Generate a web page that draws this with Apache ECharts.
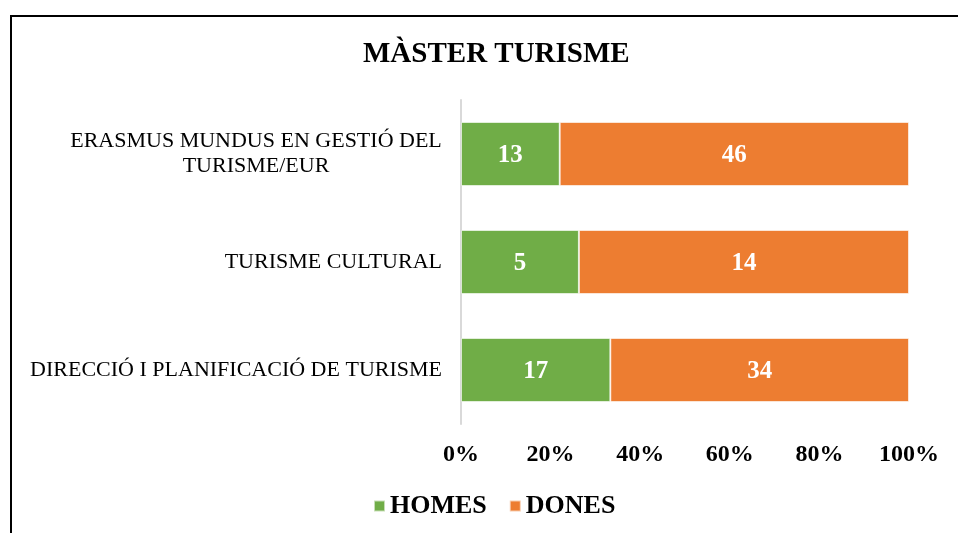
<!DOCTYPE html>
<html>
<head>
<meta charset="utf-8">
<title>MÀSTER TURISME</title>
<script src="https://cdn.jsdelivr.net/npm/echarts@6/dist/echarts.min.js"></script>
<style>
  html, body { margin: 0; padding: 0; background: #ffffff; }
  #chart { width: 958px; height: 533px; }
</style>
</head>
<body>
<div id="chart"></div>
<script>
// Programmes, listed top to bottom
const categories = [
  'ERASMUS MUNDUS EN GESTIÓ DEL\nTURISME/EUR',
  'TURISME CULTURAL',
  'DIRECCIÓ I PLANIFICACIÓ DE TURISME'
];
// Student counts by sex
const homes = [13, 5, 17];
const dones = [46, 14, 34];
const seriesNames = ['HOMES', 'DONES'];
const tickValues = [0, 20, 40, 60, 80, 100];

const SERIF = '"Liberation Serif", "Times New Roman", serif';

// Share of each programme's total, so every bar spans 0–100 %
const totals = homes.map((h, i) => h + dones[i]);
const pct = (arr) => arr.map((v, i) => ({ value: v / totals[i] * 100, raw: v }));

// Width of the longest line of a wrapped label, used to centre its lines
function textWidth(text, font) {
  const ctx = document.createElement('canvas').getContext('2d');
  ctx.font = font;
  return ctx.measureText(text).width;
}
const wrapWidth = Math.ceil(Math.max(...categories
  .filter(c => c.includes('\n'))
  .flatMap(c => c.split('\n'))
  .map(s => textWidth(s, '22px "Liberation Serif"'))));

const chart = echarts.init(document.getElementById('chart'));

const barLabel = {
  show: true,
  position: 'inside',
  offset: [0, 2],
  color: '#ffffff',
  fontFamily: SERIF,
  fontWeight: 'bold',
  fontSize: 25,
  formatter: (p) => p.data.raw
};

chart.setOption({
  animation: false,
  backgroundColor: '#ffffff',
  title: {
    text: 'MÀSTER TURISME',
    left: 358,
    top: 35,
    textStyle: { fontFamily: SERIF, fontWeight: 'bold', fontSize: 29, color: '#000000' }
  },
  graphic: [{
    type: 'rect',
    shape: { x: 11, y: 16, width: 1000, height: 600 },
    style: { fill: 'none', stroke: '#000000', lineWidth: 2 },
    silent: true
  }],
  legend: {
    data: seriesNames,
    left: 368,
    top: 488,
    itemWidth: 11,
    itemHeight: 11,
    itemGap: 22,
    icon: 'rect',
    textStyle: { fontFamily: SERIF, fontWeight: 'bold', fontSize: 26, color: '#000000' }
  },
  grid: { left: 461, right: 49, top: 100, bottom: 109, containLabel: false },
  xAxis: {
    type: 'value',
    min: 0,
    max: 100,
    interval: 20,
    axisLine: { show: false },
    axisTick: { show: false },
    splitLine: { show: false },
    axisLabel: {
      margin: 19,
      fontFamily: SERIF,
      fontWeight: 'bold',
      fontSize: 24,
      color: '#000000',
      formatter: (v) => tickValues.includes(v) ? v + '%' : ''
    }
  },
  yAxis: {
    type: 'category',
    inverse: true,
    data: categories,
    axisLine: { show: true, lineStyle: { color: '#d9d9d9', width: 2 } },
    axisTick: { show: false },
    axisLabel: {
      margin: 19,
      fontFamily: SERIF,
      fontSize: 22,
      lineHeight: 25,
      color: '#000000',
      formatter: (v) => v.includes('\n')
        ? v.split('\n').map(s => '{w|' + s + '}').join('\n')
        : v,
      rich: {
        w: {
          width: wrapWidth,
          align: 'center',
          fontFamily: SERIF,
          fontSize: 22,
          lineHeight: 25,
          color: '#000000'
        }
      }
    }
  },
  series: [
    {
      name: seriesNames[0],
      type: 'bar',
      stack: 'total',
      barWidth: 64,
      data: pct(homes),
      itemStyle: { color: '#70ad47', borderColor: 'rgba(255,255,255,0.6)', borderWidth: 1 },
      label: barLabel
    },
    {
      name: seriesNames[1],
      type: 'bar',
      stack: 'total',
      barWidth: 64,
      data: pct(dones),
      itemStyle: { color: '#ed7d31', borderColor: 'rgba(255,255,255,0.6)', borderWidth: 1 },
      label: barLabel
    }
  ]
});
</script>
</body>
</html>
